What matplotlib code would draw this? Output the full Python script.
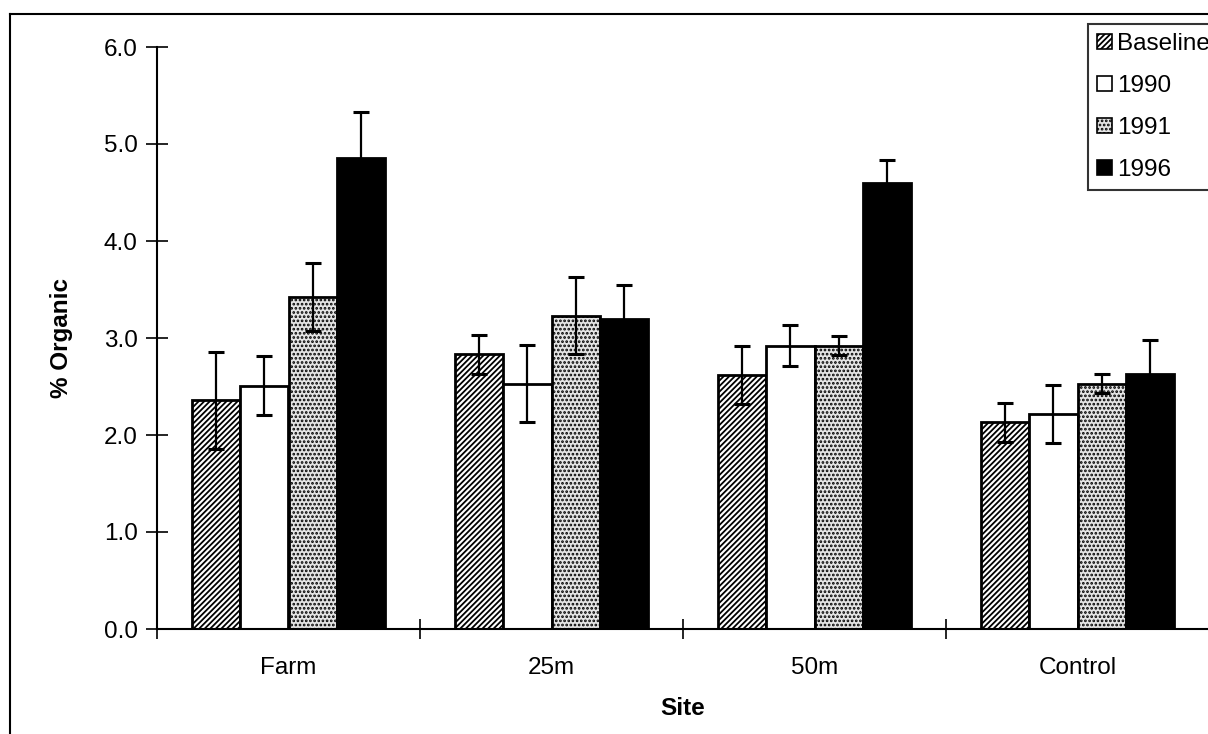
import matplotlib
matplotlib.use("Agg")
import matplotlib.pyplot as plt
import numpy as np
from matplotlib.lines import Line2D
from matplotlib.patches import Patch

plt.rcParams['font.family'] = ['Liberation Sans', 'DejaVu Sans']
plt.rcParams['hatch.linewidth'] = 1.3

sites = ["Farm", "25m", "50m", "Control"]
series = ["Baseline", "1990", "1991", "1996"]
baseline = [2.36, 2.83, 2.62, 2.13]
y1990 = [2.51, 2.53, 2.92, 2.22]
y1991 = [3.42, 3.23, 2.92, 2.53]
y1996 = [4.86, 3.20, 4.60, 2.63]
err_baseline = [0.50, 0.20, 0.30, 0.20]
err_1990 = [0.30, 0.40, 0.21, 0.30]
err_1991 = [0.35, 0.40, 0.10, 0.10]
err_1996 = [0.47, 0.35, 0.23, 0.35]
yticks = [0.0, 1.0, 2.0, 3.0, 4.0, 5.0, 6.0]

values = [baseline, y1990, y1991, y1996]
errors = [err_baseline, err_1990, err_1991, err_1996]
styles = [
    dict(facecolor="white", hatch="//////"),
    dict(facecolor="white", hatch=None),
    dict(facecolor="#e4e4e4", hatch="...."),
    dict(facecolor="black", hatch=None),
]

FS = 17.5
W, H = 1208, 734
fig = plt.figure(figsize=(W / 100, H / 100), dpi=100)
ax = fig.add_axes([157 / W, 1 - 629 / H, (1209 - 157) / W, (629 - 47) / H])

bw = 0.183
centers = np.arange(len(sites)) + 0.5
for i, (vals, errs, st) in enumerate(zip(values, errors, styles)):
    x = centers + (i - 1.5) * bw
    ax.bar(x, vals, width=bw, edgecolor="black", linewidth=2.0,
           label=series[i], zorder=2, **st)
    ax.errorbar(x, vals, yerr=errs, fmt="none", ecolor="black",
                elinewidth=1.6, capsize=6, capthick=2.2, zorder=3)

ax.set_xlim(0, len(sites))
ax.set_ylim(0, 6)
ax.set_yticks(yticks)
ax.set_yticklabels([f"{v:.1f}" for v in yticks], fontsize=FS)
ax.set_xticks(np.arange(len(sites) + 1))
ax.set_xticklabels([])
ax.set_xticks(centers, minor=True)
ax.set_xticklabels(sites, minor=True, fontsize=FS)
ax.tick_params(axis="x", which="major", direction="inout", length=14, width=1.2)
ax.tick_params(axis="x", which="minor", length=0, pad=20)
ax.tick_params(axis="y", direction="inout", length=16, width=1.2, pad=6)
for s in ["top", "right"]:
    ax.spines[s].set_visible(False)
ax.spines["left"].set_linewidth(1.5)
ax.spines["bottom"].set_linewidth(1.5)

ax.set_xlabel("Site", fontsize=FS, fontweight="bold", labelpad=13)
ax.set_ylabel("% Organic", fontsize=FS, fontweight="bold", labelpad=22)

# outer chart frame
fig.add_artist(Line2D([10 / W, 10 / W], [0, 1 - 14 / H], transform=fig.transFigure,
                      color="black", linewidth=1.5))
fig.add_artist(Line2D([10 / W, 1], [1 - 14 / H, 1 - 14 / H], transform=fig.transFigure,
                      color="black", linewidth=1.5))

handles = [Patch(edgecolor="black", linewidth=1.2, label=s, **st)
           for s, st in zip(series, styles)]
leg = fig.legend(handles=handles, loc="upper left",
                 bbox_to_anchor=(1088 / W, 1 - 24 / H), fontsize=FS,
                 frameon=True, fancybox=False, edgecolor="black",
                 handlelength=0.6, handleheight=0.6, handletextpad=0.2,
                 labelspacing=0.82, borderpad=0.38, borderaxespad=0)
leg.get_frame().set_linewidth(1.5)

fig.savefig("out.png", dpi=100, facecolor="white")
